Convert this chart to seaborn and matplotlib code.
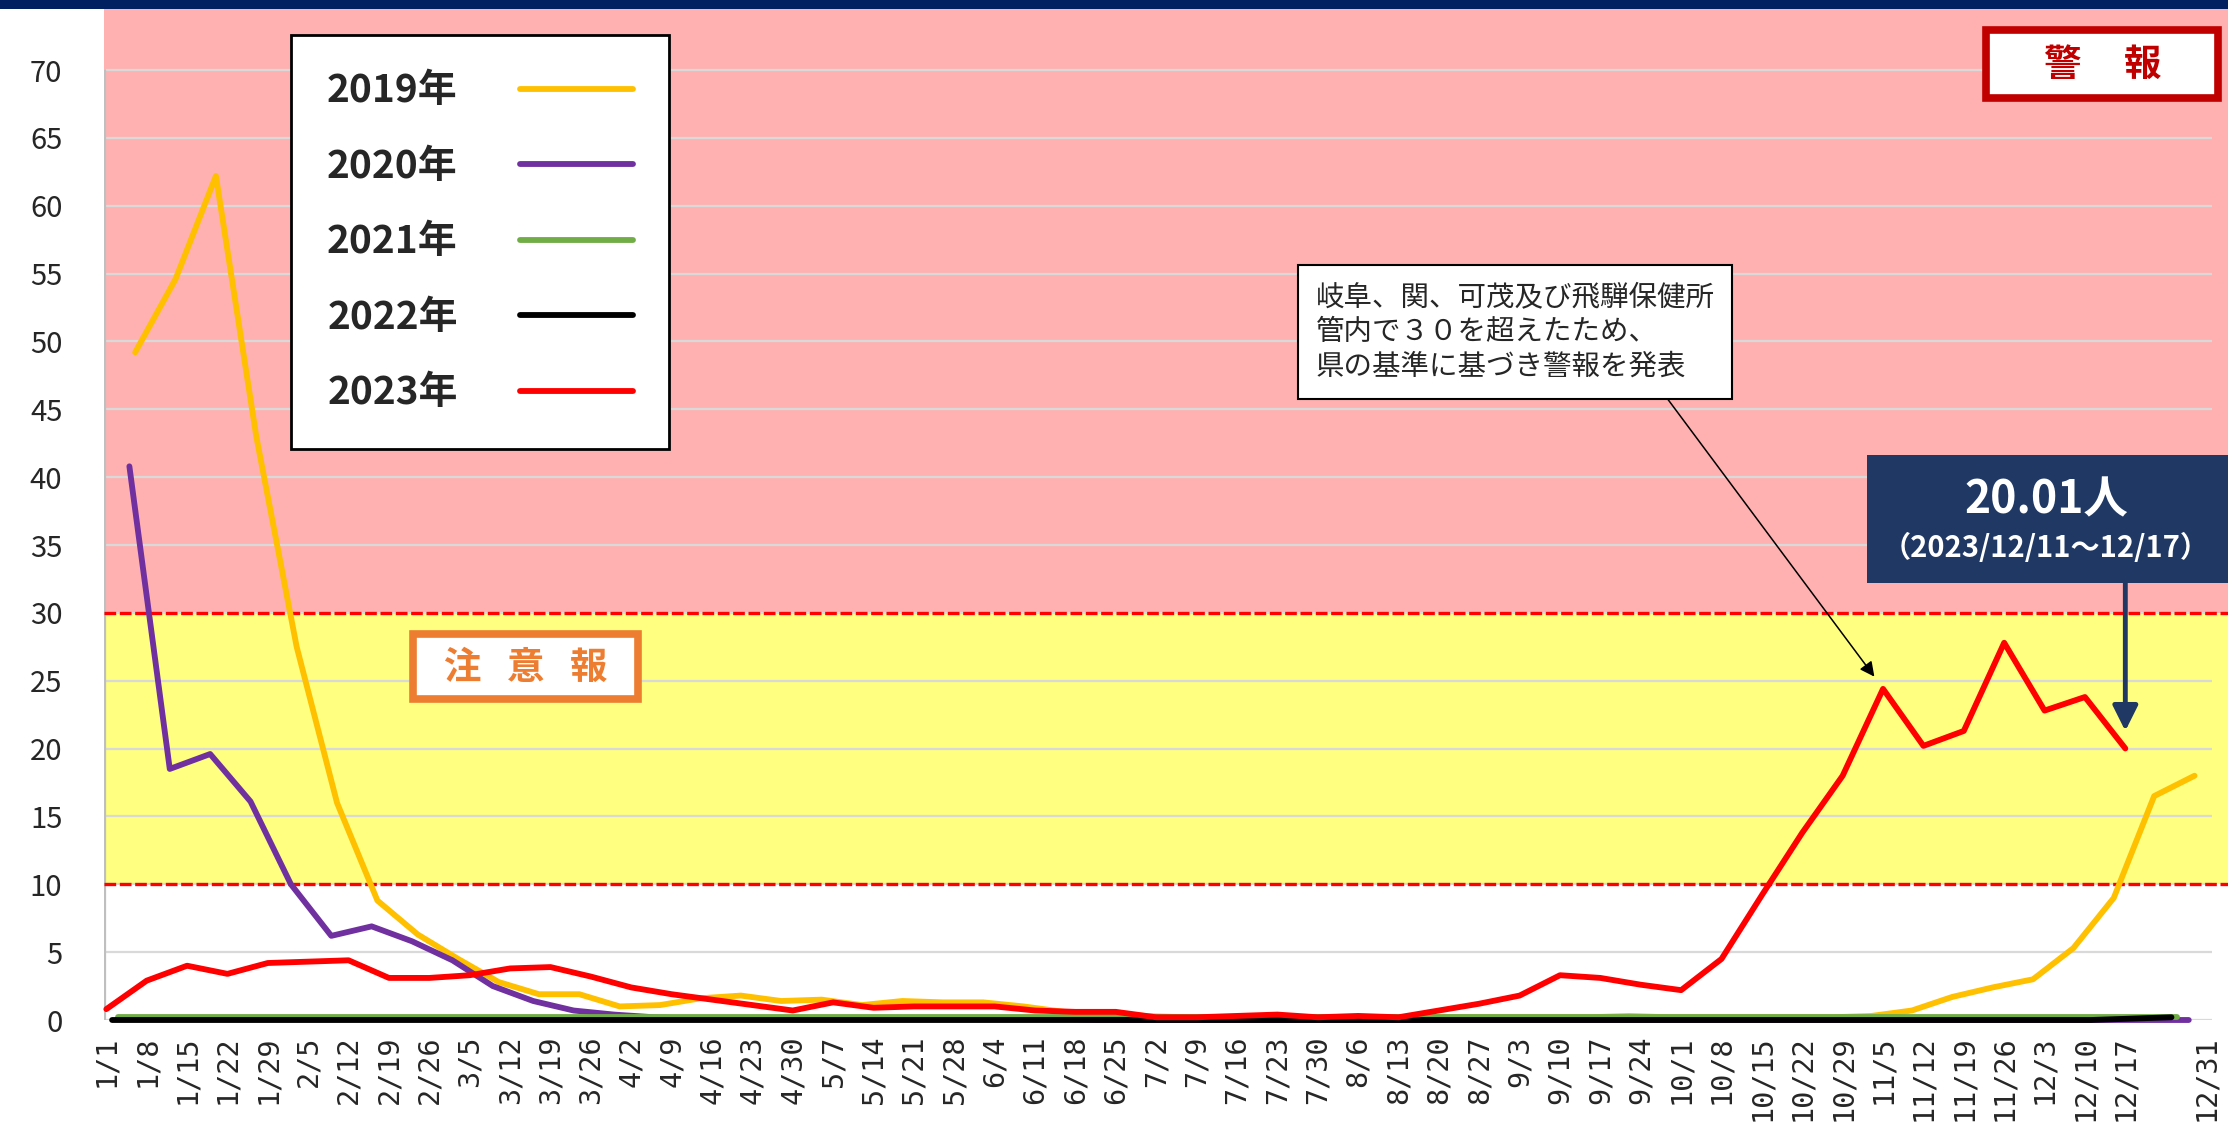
import pandas as pd
import matplotlib.pyplot as plt
import matplotlib.patches as mpatches
from matplotlib.lines import Line2D
import seaborn as sns

sns.set_theme(style="white")
plt.rcParams["font.family"] = ["Noto Sans CJK JP", "DejaVu Sans"]

# series (weekly values, per sentinel site)
years = ["2019年", "2020年", "2021年", "2022年", "2023年"]
colors = ["#FFC000", "#7030A0", "#70AD47", "#000000", "#FF0000"]
# day (counted from 1/1) on which the first week of each season ends
first_week_end = [5, 4, 2, 1, 0]

v2019 = [49.2, 54.6, 62.2, 43.0, 27.5, 16.0, 8.8, 6.3, 4.5, 2.8,
         1.9, 1.9, 1.0, 1.1, 1.6, 1.8, 1.4, 1.5, 1.1, 1.4,
         1.3, 1.3, 1.0, 0.6, 0.5, 0.3, 0.2, 0.2, 0.2, 0.2,
         0.2, 0.2, 0.2, 0.2, 0.2, 0.2, 0.2, 0.3, 0.2, 0.2,
         0.2, 0.2, 0.2, 0.3, 0.7, 1.7, 2.4, 3.0, 5.3, 9.0,
         16.5, 18.0]
v2020 = [40.8, 18.5, 19.6, 16.1, 10.0, 6.2, 6.9, 5.8, 4.4, 2.5,
         1.4, 0.7, 0.4, 0.2, 0.1, 0.1, 0.1, 0.1, 0.1, 0.1,
         0.1, 0.1, 0.1, 0.1, 0.0, 0.0, 0.0, 0.0, 0.0, 0.0,
         0.0, 0.0, 0.0, 0.0, 0.0, 0.0, 0.0, 0.0, 0.0, 0.0,
         0.0, 0.0, 0.0, 0.0, 0.0, 0.0, 0.0, 0.0, 0.0, 0.0,
         0.0, 0.0]
v2021 = [0.2, 0.2, 0.2, 0.2, 0.2, 0.2, 0.2, 0.2, 0.2, 0.2,
         0.2, 0.2, 0.2, 0.2, 0.2, 0.2, 0.2, 0.2, 0.2, 0.2,
         0.2, 0.2, 0.2, 0.2, 0.2, 0.2, 0.2, 0.2, 0.2, 0.2,
         0.2, 0.2, 0.2, 0.2, 0.2, 0.2, 0.2, 0.2, 0.2, 0.2,
         0.2, 0.2, 0.2, 0.2, 0.2, 0.2, 0.2, 0.2, 0.2, 0.2,
         0.2, 0.2]
v2022 = [0.0, 0.0, 0.0, 0.0, 0.0, 0.0, 0.0, 0.0, 0.0, 0.0,
         0.0, 0.0, 0.0, 0.0, 0.0, 0.0, 0.0, 0.0, 0.0, 0.0,
         0.0, 0.0, 0.0, 0.0, 0.0, 0.0, 0.0, 0.0, 0.0, 0.0,
         0.0, 0.0, 0.0, 0.0, 0.0, 0.0, 0.0, 0.0, 0.0, 0.0,
         0.0, 0.0, 0.0, 0.0, 0.0, 0.0, 0.0, 0.0, 0.0, 0.0,
         0.1, 0.2]
v2023 = [0.8, 2.9, 4.0, 3.4, 4.2, 4.3, 4.4, 3.1, 3.1, 3.3,
         3.8, 3.9, 3.2, 2.4, 1.9, 1.5, 1.1, 0.7, 1.3, 0.9,
         1.0, 1.0, 1.0, 0.7, 0.6, 0.6, 0.2, 0.2, 0.3, 0.4,
         0.2, 0.3, 0.2, 0.7, 1.2, 1.8, 3.3, 3.1, 2.6, 2.2,
         4.5, 9.2, 13.8, 18.0, 24.4, 20.2, 21.3, 27.8, 22.8, 23.8,
         20.01]
series = [v2019, v2020, v2021, v2022, v2023]

week_labels = ["1/1", "1/8", "1/15", "1/22", "1/29", "2/5", "2/12", "2/19", "2/26",
               "3/5", "3/12", "3/19", "3/26", "4/2", "4/9", "4/16", "4/23", "4/30",
               "5/7", "5/14", "5/21", "5/28", "6/4", "6/11", "6/18", "6/25",
               "7/2", "7/9", "7/16", "7/23", "7/30", "8/6", "8/13", "8/20", "8/27",
               "9/3", "9/10", "9/17", "9/24", "10/1", "10/8", "10/15", "10/22", "10/29",
               "11/5", "11/12", "11/19", "11/26", "12/3", "12/10", "12/17", "12/31"]
label_days = [7 * i for i in range(len(week_labels) - 1)] + [364]
y_ticks = list(range(0, 71, 5))

# long table: one row per week and season
rows = []
for name, start, vals in zip(years, first_week_end, series):
    for k, v in enumerate(vals):
        rows.append({"season": name, "day": start + 7 * k, "value": v})
df = pd.DataFrame(rows)

W, H = 2228, 1126
fig = plt.figure(figsize=(W / 100, H / 100), dpi=100)
fig.patch.set_facecolor("white")
ax = fig.add_axes([104 / W, 106 / H, (W - 104) / W, (H - 106 - 9) / H])
ax.set_facecolor("white")

# alert zones
ax.axhspan(30, 74.5, color="#FFB1B1", lw=0, zorder=0)
ax.axhspan(10, 30, color="#FFFF80", lw=0, zorder=0)
ax.hlines(y_ticks, 0, 365, color="#D9D9D9", lw=1.6, zorder=1)
ax.vlines(-0.3, 0, 70, color="#BFBFBF", lw=1.6, zorder=1)
for lvl in (10, 30):
    ax.axhline(lvl, color="#FF0000", lw=2.4, ls=(0, (3.5, 1.1)), zorder=2)

sns.lineplot(data=df, x="day", y="value", hue="season", hue_order=years,
             palette=dict(zip(years, colors)), linewidth=4.2, estimator=None,
             sort=False, legend=False, ax=ax, zorder=3)
for ln in ax.lines[-5:]:
    ln.set_clip_on(False)
    ln.set_solid_joinstyle("round")

ax.set_xlim(-0.4, 367.8)
ax.set_ylim(0, 74.5)
ax.set_yticks(y_ticks)
ax.set_xticks(label_days)
ax.set_xticklabels(week_labels, rotation=90, family="DejaVu Sans Mono", fontsize=20.5)
ax.tick_params(axis="y", length=0, pad=30, labelsize=21)
ax.tick_params(axis="x", length=0, pad=11)
ax.set_xlabel("")
ax.set_ylabel("")
for s in ax.spines.values():
    s.set_visible(False)

handles = [Line2D([], [], color=c, lw=4.2) for c in colors]
leg = ax.legend(handles, years, loc="upper left", bbox_to_anchor=(291 / W, 1 - 35 / H),
                bbox_transform=fig.transFigure, borderaxespad=0, fancybox=False,
                framealpha=1, edgecolor="black", markerfirst=False,
                prop={"weight": "bold", "size": 28}, handlelength=2.9,
                handletextpad=1.6, labelspacing=0.94, borderpad=0.93)
leg.get_frame().set_linewidth(2)
leg.set_zorder(6)

# call-out about the prefectural warning
ax.annotate("岐阜、関、可茂及び飛騨保健所\n管内で３０を超えたため、\n県の基準に基づき警報を発表",
            xy=(306.5, 25.3), xytext=(244.2, 50.7), textcoords="data",
            ha="center", va="center", multialignment="left", fontsize=20.5,
            linespacing=1.2, zorder=7,
            bbox=dict(boxstyle="square,pad=0.6", fc="white", ec="black", lw=1.5),
            arrowprops=dict(arrowstyle="-|>", color="black", lw=1.1, mutation_scale=22,
                            shrinkA=0, shrinkB=0, relpos=(0.85, 0)))

ax.annotate("", xy=(350, 21.3), xytext=(350, 32.3),
            arrowprops=dict(arrowstyle="-|>", color="#203864", lw=3.5,
                            mutation_scale=38, shrinkA=0, shrinkB=0), zorder=7)


def fig_box(x0, y0, x1, y1, **kw):
    fig.patches.append(mpatches.Rectangle((x0 / W, 1 - y1 / H), (x1 - x0) / W, (y1 - y0) / H,
                                          transform=fig.transFigure, **kw))


fig_box(0, 0, W, 9, fc="#002060", ec="none")
fig_box(1867, 455, W + 5, 583, fc="#203864", ec="none")
fig.text(2046 / W, 1 - 500 / H, "20.01人", color="white", fontsize=32, weight="bold",
         ha="center", va="center")
fig.text(2046 / W, 1 - 548 / H, "（2023/12/11～12/17）", color="white", fontsize=21,
         weight="bold", ha="center", va="center")

fig_box(413, 634, 638, 699, fc="white", ec="#ED7D31", lw=5.5)
fig.text(526 / W, 1 - 667 / H, "注   意   報", color="#ED7D31", fontsize=27, weight="bold",
         ha="center", va="center")

fig_box(1986, 30, 2218, 98, fc="white", ec="#C00000", lw=5.5)
fig.text(2103 / W, 1 - 64 / H, "警     報", color="#C00000", fontsize=27, weight="bold",
         ha="center", va="center")

fig.savefig("out.png", dpi=100)
